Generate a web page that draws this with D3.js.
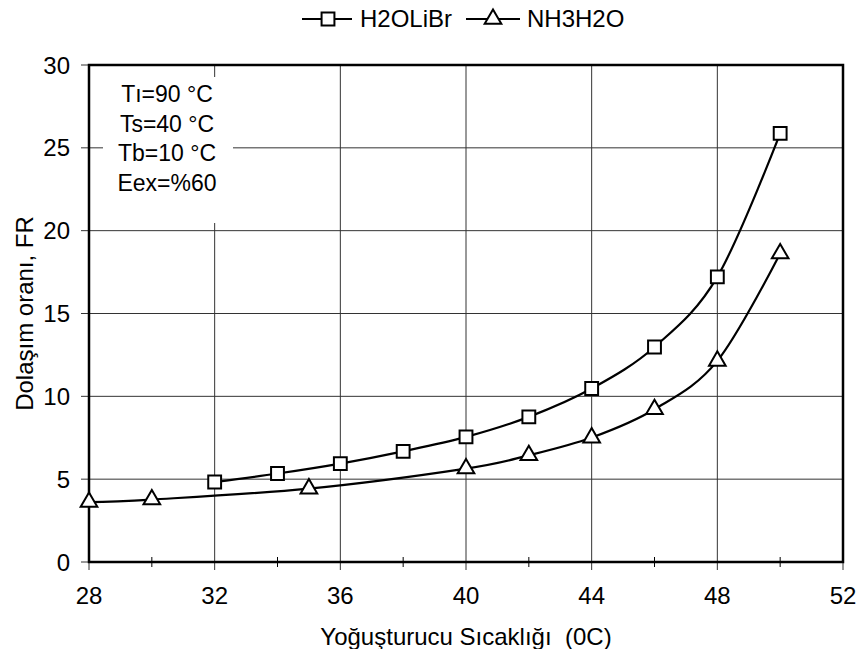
<!DOCTYPE html>
<html><head><meta charset="utf-8">
<script src="https://cdn.jsdelivr.net/npm/d3@7"></script>
<style>body{margin:0;background:#fff}svg{display:block}text{font-family:Arial,"Liberation Sans",sans-serif;fill:#000;white-space:pre}</style>
</head><body>
<script>
const h2oX = [32, 34, 36, 38, 40, 42, 44, 46, 48, 50];
const h2oY = [4.83, 5.34, 5.94, 6.68, 7.55, 8.76, 10.47, 12.98, 17.21, 25.87];
const nh3X = [28, 30, 35, 40, 42, 44, 46, 48, 50];
const nh3Y = [3.62, 3.77, 4.43, 5.64, 6.44, 7.51, 9.22, 12.14, 18.62];
const xTicks = [28, 32, 36, 40, 44, 48, 52];
const xMinor = [30, 34, 38, 42, 46, 50];
const yTicks = [0, 5, 10, 15, 20, 25, 30];
const seriesNames = ["H2OLiBr", "NH3H2O"];
const notes = ["T\u0131=90 \u00b0C", "Ts=40 \u00b0C", "Tb=10 \u00b0C", "Eex=%60"];
const xTitle = "Yo\u011fu\u015fturucu S\u0131cakl\u0131\u011f\u0131  (0C)";
const yTitle = "Dola\u015f\u0131m oran\u0131, FR";

const W = 859, H = 649;
const L = 89, R = 843, T = 65, B = 562;
const svg = d3.select("body").append("svg").attr("width", W).attr("height", H);
const x = d3.scaleLinear().domain([28, 52]).range([L, R]);
const y = d3.scaleLinear().domain([0, 30]).range([B, T]);

// gridlines
const g = svg.append("g");
g.selectAll(".hg").data(yTicks).enter().append("line")
  .attr("x1", L - 8).attr("x2", R).attr("y1", d => y(d)).attr("y2", d => y(d))
  .attr("stroke", "#333").attr("stroke-width", 1);
g.selectAll(".vg").data(xTicks).enter().append("line")
  .attr("y1", T).attr("y2", B + 8).attr("x1", d => x(d)).attr("x2", d => x(d))
  .attr("stroke", "#333").attr("stroke-width", 1);
g.selectAll(".mt").data(xMinor).enter().append("line")
  .attr("y1", B - 5).attr("y2", B + 5).attr("x1", d => x(d)).attr("x2", d => x(d))
  .attr("stroke", "#000").attr("stroke-width", 1);

// annotation box (white, covers gridlines)
svg.append("rect").attr("x", 103).attr("y", 77).attr("width", 130).attr("height", 146).attr("fill", "#fff");
svg.selectAll(".note").data(notes).enter().append("text")
  .attr("x", 167).attr("y", (d, i) => 102 + i * 29.5)
  .attr("text-anchor", "middle").attr("font-size", 23).text(d => d);

// frame
svg.append("rect").attr("x", L).attr("y", T).attr("width", R - L).attr("height", B - T)
  .attr("fill", "none").attr("stroke", "#000").attr("stroke-width", 2.5);

// tick labels
svg.selectAll(".yl").data(yTicks).enter().append("text")
  .attr("x", 70).attr("y", d => y(d)).attr("dy", "0.36em").attr("text-anchor", "end")
  .attr("font-size", 24).text(d => d);
svg.selectAll(".xl").data(xTicks).enter().append("text")
  .attr("x", d => x(d)).attr("y", 604).attr("text-anchor", "middle")
  .attr("font-size", 24).text(d => d);

// titles
svg.append("text").attr("x", (L + R) / 2).attr("y", 645).attr("text-anchor", "middle")
  .attr("font-size", 24).attr("xml:space", "preserve").text(xTitle);
svg.append("text").attr("transform", `translate(33,${(T + B) / 2}) rotate(-90)`)
  .attr("text-anchor", "middle").attr("font-size", 24).text(yTitle);

// lines
const line = d3.line().x(d => x(d[0])).y(d => y(d[1])).curve(d3.curveCardinal.tension(0));
const s1 = h2oX.map((v, i) => [v, h2oY[i]]);
const s2 = nh3X.map((v, i) => [v, nh3Y[i]]);
svg.append("path").attr("d", line(s1)).attr("fill", "none").attr("stroke", "#000").attr("stroke-width", 2.2);
svg.append("path").attr("d", line(s2)).attr("fill", "none").attr("stroke", "#000").attr("stroke-width", 2.2);

const sq = d3.symbol().type(d3.symbolSquare).size(165);
const tri = d3.symbol().type(d3.symbolTriangle).size(120);
svg.selectAll(".m1").data(s1).enter().append("path").attr("d", sq)
  .attr("transform", d => `translate(${x(d[0])},${y(d[1])})`)
  .attr("fill", "#fff").attr("stroke", "#000").attr("stroke-width", 2);
svg.selectAll(".m2").data(s2).enter().append("path").attr("d", tri)
  .attr("transform", d => `translate(${x(d[0])},${y(d[1])})`)
  .attr("fill", "#fff").attr("stroke", "#000").attr("stroke-width", 2);

// legend
const leg = [{x0: 302, x1: 352, mx: 328, tx: 360, sym: sq}, {x0: 466, x1: 520, mx: 493, tx: 527, sym: tri}];
leg.forEach((l, i) => {
  svg.append("line").attr("x1", l.x0).attr("x2", l.x1).attr("y1", 19).attr("y2", 19).attr("stroke", "#000").attr("stroke-width", 2.2);
  svg.append("path").attr("d", l.sym).attr("transform", `translate(${l.mx},19)`)
    .attr("fill", "#fff").attr("stroke", "#000").attr("stroke-width", 2);
  svg.append("text").attr("x", l.tx).attr("y", 27).attr("font-size", 24).text(seriesNames[i]);
});
</script>
</body></html>
